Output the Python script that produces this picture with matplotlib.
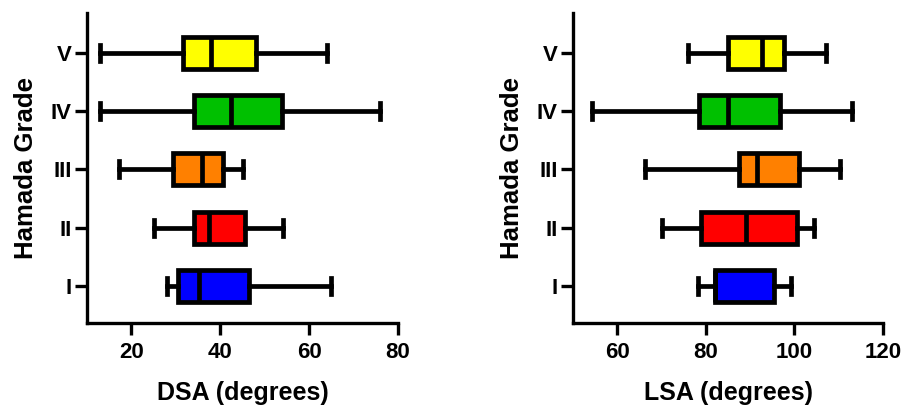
import matplotlib
matplotlib.use("Agg")
import matplotlib.pyplot as plt

grades = ["I", "II", "III", "IV", "V"]
colors = ["#0000FF", "#FF0000", "#FF8000", "#00C000", "#FFFF00"]

# DSA: whisker low, Q1, median, Q3, whisker high (per grade I..V)
dsa_low = [28.0, 25.0, 17.1, 13.0, 13.0]
dsa_q1 = [30.5, 34.0, 29.3, 34.2, 31.7]
dsa_med = [35.2, 37.5, 35.9, 42.5, 38.0]
dsa_q3 = [46.5, 45.6, 40.7, 54.0, 48.0]
dsa_high = [65.0, 54.1, 45.1, 76.0, 64.0]

# LSA
lsa_low = [78.2, 70.1, 66.2, 54.2, 76.0]
lsa_q1 = [82.0, 78.9, 87.5, 78.4, 84.9]
lsa_med = [82.0, 89.1, 91.5, 85.1, 92.6]
lsa_q3 = [95.4, 100.5, 101.1, 96.8, 97.7]
lsa_high = [99.2, 104.3, 110.3, 113.1, 107.1]

plt.rcParams['font.family'] = ['Liberation Sans', 'DejaVu Sans']
plt.rcParams['font.weight'] = 'bold'

fig = plt.figure(figsize=(9.03, 4.08), dpi=100)
ax1 = fig.add_axes([0.0963, 0.208, 0.3444, 0.760])
ax2 = fig.add_axes([0.6346, 0.208, 0.3433, 0.760])

LW = 3.4


def draw(ax, low, q1, med, q3, high, xlim, xticks, xlabel):
    stats = []
    for i in range(len(grades)):
        stats.append(dict(whislo=low[i], q1=q1[i], med=med[i], q3=q3[i],
                          whishi=high[i], fliers=[], label=grades[i]))
    bp = ax.bxp(stats, positions=range(1, 6), widths=0.55, vert=False,
                patch_artist=True, showfliers=False,
                boxprops=dict(linewidth=LW, edgecolor='black'),
                medianprops=dict(linewidth=LW, color='black'),
                whiskerprops=dict(linewidth=LW, color='black'),
                capprops=dict(linewidth=LW, color='black'))
    for patch, c in zip(bp['boxes'], colors):
        patch.set_facecolor(c)
    ax.set_xlim(*xlim)
    ax.set_ylim(0.36, 5.68)
    ax.set_xticks(xticks)
    ax.set_yticks(range(1, 6))
    ax.set_yticklabels(grades)
    ax.spines['top'].set_visible(False)
    ax.spines['right'].set_visible(False)
    for s in ['left', 'bottom']:
        ax.spines[s].set_linewidth(2.4)
    ax.tick_params(axis='both', length=8.5, width=2.4, labelsize=16)
    ax.tick_params(axis='x', pad=5)
    ax.tick_params(axis='y', pad=2.5)
    for lab in ax.get_xticklabels() + ax.get_yticklabels():
        lab.set_fontweight('bold')
    ax.set_xlabel(xlabel, fontsize=18, fontweight='bold', labelpad=13)
    ax.set_ylabel("Hamada Grade", fontsize=18.5, fontweight='bold', labelpad=9)


draw(ax1, dsa_low, dsa_q1, dsa_med, dsa_q3, dsa_high, (10, 80), [20, 40, 60, 80], "DSA (degrees)")
draw(ax2, lsa_low, lsa_q1, lsa_med, lsa_q3, lsa_high, (50, 120), [60, 80, 100, 120], "LSA (degrees)")

fig.savefig("out.png", dpi=100)
